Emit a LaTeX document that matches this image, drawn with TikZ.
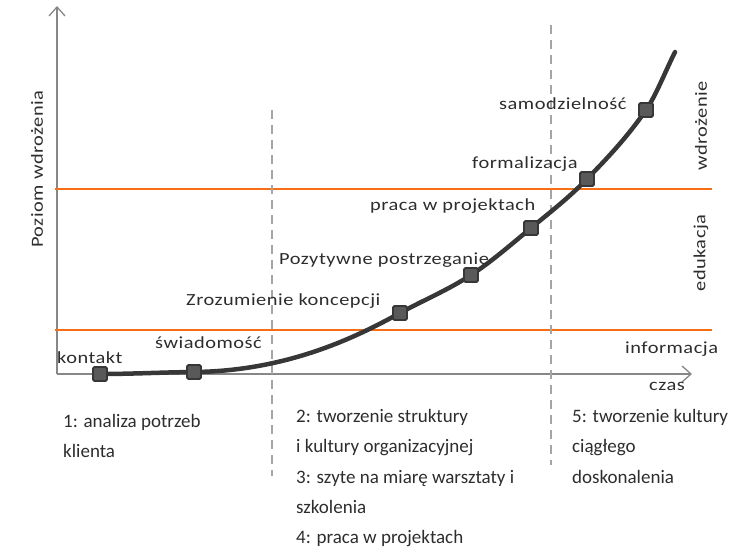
\documentclass[tikz,border=0pt]{standalone}
\usepackage{fontspec}
\setmainfont{Carlito}
\newfontfamily\labfont[FakeStretch=1.2,LetterSpace=3]{Carlito}
\newfontfamily\notefont{Carlito}
\usetikzlibrary{arrows.meta}
\definecolor{orangeline}{RGB}{247,110,20}
\definecolor{curvegray}{RGB}{55,55,55}
\definecolor{axisgray}{RGB}{135,135,135}
\definecolor{dashgray}{RGB}{165,165,165}
\definecolor{textgray}{RGB}{45,45,45}
\begin{document}
\begin{tikzpicture}[x=1pt,y=-1pt,
  marker/.style={draw=curvegray,fill=black!65,line width=1.8pt,minimum size=14pt,inner sep=0pt,rounded corners=1.5pt},
  lab/.style={font=\labfont\fontsize{17}{20}\selectfont,text=textgray,inner sep=0pt},
  note/.style={font=\notefont\fontsize{19}{30.3}\selectfont,align=left,inner sep=0pt,text=textgray,anchor=north west}]
\useasboundingbox (0,0) rectangle (738,547);
% axes
\coordinate (O) at (57,374);
\coordinate (ytop) at (57,6);
\coordinate (xend) at (692,374);
\draw[axisgray,line width=1.3pt,-{Straight Barb[length=9pt,width=16pt]}](O)--(ytop);
\draw[axisgray,line width=1.3pt,-{Straight Barb[length=9pt,width=16pt]}](O)--(xend);
% levels
\foreach \n/\y in {a/189,b/330}{\coordinate (l\n w) at (55,\y); \coordinate (l\n e) at (712,\y); \draw[orangeline,line width=2.2pt](l\n w)--(l\n e);}
% phases
\foreach \n/\x/\ya/\yb in {1/272/110/476,2/551/25/465}{\coordinate (d\n t) at (\x,\ya); \coordinate (d\n b) at (\x,\yb); \draw[dashgray,line width=1.6pt,dash pattern=on 9pt off 6pt](d\n t)--(d\n b);}
% curve
\foreach \n/\x/\y in {1/100/374,2/194/372,3/400/313,4/471/275,5/531/228,6/587/179,7/646/110}{\coordinate (m\n) at (\x,\y);}
\coordinate (cend) at (675,52);
\draw[curvegray,line width=4.5pt,line cap=round](m1)..controls(131,374)and(163,372.3)..(m2)
  ..controls(290,371)and(360,335)..(m3)..controls(423.7,300)and(447.3,290.4)..(m4)
  ..controls(491,262)and(511,244.6)..(m5)..controls(549.7,212.5)and(568.3,198.3)..(m6)
  ..controls(606.7,158.7)and(626.3,138.4)..(m7)..controls(655.7,96)and(665.3,71.4)..(cend);
\foreach \n in {1,...,7}{\node[marker] (s\n) at (m\n) {};}
% labels
\node[lab,anchor=west] (kontakt) at (57,358) {kontakt};
\node[lab,anchor=west] (swiad) at (155,343) {świadomość};
\node[lab,anchor=west] (zroz) at (186,301) {Zrozumienie koncepcji};
\node[lab,anchor=west] (pozyt) at (279,260) {Pozytywne postrzeganie};
\node[lab,anchor=west] (praca) at (370,206) {praca w projektach};
\node[lab,anchor=west] (formal) at (472,164) {formalizacja};
\node[lab,anchor=west] (samo) at (499,104) {samodzielność};
\node[lab,anchor=west] (info) at (625,349) {informacja};
\node[lab,anchor=west] (czas) at (649,386) {czas};
\node[lab,rotate=90] (wdroz) at (701,126) {wdrożenie};
\node[lab,rotate=90] (eduk) at (701,253) {edukacja};
\node[lab,rotate=90] (poziom) at (37,169) {Poziom wdrożenia};
% steps
\node[note] (k1) at (63,414) {1: analiza potrzeb\\klienta};
\node[note] (k2) at (296,409) {2: tworzenie struktury\\i kultury organizacyjnej\\3: szyte na miarę warsztaty i\\szkolenia\\4: praca w projektach};
\node[note] (k5) at (572,409) {5: tworzenie kultury\\ciągłego\\doskonalenia};
\end{tikzpicture}
\end{document}
